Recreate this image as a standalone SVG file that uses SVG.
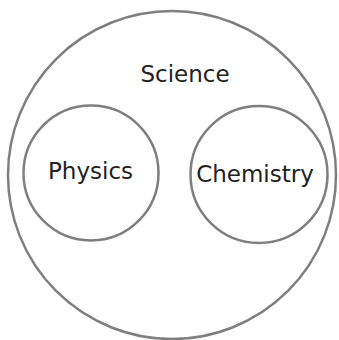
<svg xmlns="http://www.w3.org/2000/svg" width="339" height="340" viewBox="0 0 339 340">
<style>
.c{fill:none;stroke:#7f7f7f;stroke-width:2.5}
.t{font-family:"DejaVu Sans",sans-serif;font-size:23px;fill:#222;text-anchor:middle}
</style>
<rect width="339" height="340" fill="#fff"/>
<g id="science"><circle class="c" cx="172" cy="175" r="164"/><text class="t" x="185" y="82">Science</text></g>
<g id="physics"><circle class="c" cx="91" cy="173" r="67.5"/><text class="t" x="90.5" y="179">Physics</text></g>
<g id="chemistry"><circle class="c" cx="259" cy="174.5" r="68.5"/><text class="t" x="255" y="182">Chemistry</text></g>
<g id="connectors"/>
</svg>
